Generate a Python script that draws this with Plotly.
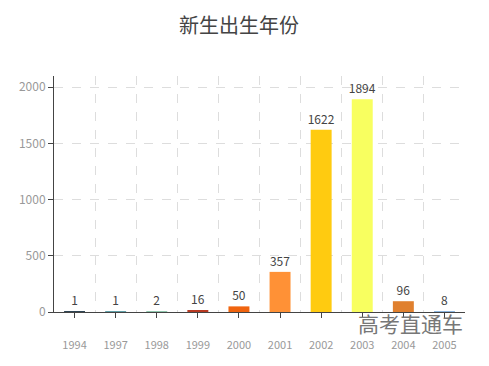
import plotly.graph_objects as go

years = ["1994", "1997", "1998", "1999", "2000", "2001", "2002", "2003", "2004", "2005"]
counts = [1, 1, 2, 16, 50, 357, 1622, 1894, 96, 8]
bar_colors = ["#2f4554", "#61a0a8", "#91c7ae", "#b83a22", "#f0640f", "#ff9136",
              "#ffcb10", "#f8ff60", "#e0802e", "#8db6df"]
title_text = "新生出生年份"
watermark = "高考直通车"

font_family = "Noto Sans CJK SC, Microsoft YaHei, sans-serif"

fig = go.Figure()
fig.add_trace(go.Bar(
    x=years, y=counts, marker=dict(color=bar_colors, line=dict(width=0)),
    text=[str(v) for v in counts], textposition="outside",
    textfont=dict(color="#444444", size=12, family=font_family),
    constraintext="none",
    cliponaxis=False, showlegend=False, hoverinfo="x+y",
))
# helper trace on overlay axis to draw centred tick marks
fig.add_trace(go.Scatter(
    x=years, y=counts, xaxis="x2", mode="markers",
    marker=dict(opacity=0), showlegend=False, hoverinfo="skip",
))

fig.update_layout(
    width=489, height=366,
    margin=dict(l=46, r=32, t=68, b=62, autoexpand=False),
    paper_bgcolor="white", plot_bgcolor="white",
    font=dict(family=font_family),
    title=dict(text=title_text, xref="paper", x=0.45, xanchor="center",
               y=0.95, yanchor="middle",
               font=dict(size=20, color="#444444", family=font_family)),
    bargap=0.49,
    xaxis=dict(
        type="category", categoryorder="array", categoryarray=years,
        range=[-0.5, 9.5], tickson="boundaries", ticks="",
        showgrid=True, gridcolor="#dddddd", griddash="dash", gridwidth=1,
        showline=True, linecolor="#444444", linewidth=1,
        tickfont=dict(size=11, color="#999999", family=font_family),
        ticklabelstandoff=23, zeroline=False, automargin=False,
    ),
    xaxis2=dict(
        type="category", categoryorder="array", categoryarray=years,
        range=[-0.5, 9.5], overlaying="x", side="bottom", anchor="y",
        ticks="outside", ticklen=5, tickcolor="#444444",
        showticklabels=False, showgrid=False, showline=False, zeroline=False,
        automargin=False,
    ),
    yaxis=dict(
        range=[0, 2100], tickvals=[0, 500, 1000, 1500, 2000],
        showgrid=True, gridcolor="#dddddd", griddash="dash", gridwidth=1,
        showline=True, linecolor="#444444", linewidth=1,
        ticks="outside", ticklen=5, tickcolor="#444444",
        tickfont=dict(size=12, color="#999999", family=font_family),
        zeroline=False, automargin=False,
    ),
    annotations=[dict(
        text=watermark, xref="paper", yref="paper", x=1.0, y=-0.045,
        xanchor="right", yanchor="middle", showarrow=False,
        font=dict(size=21, color="#777777", family=font_family),
    )],
)

fig.write_html("out.html")
